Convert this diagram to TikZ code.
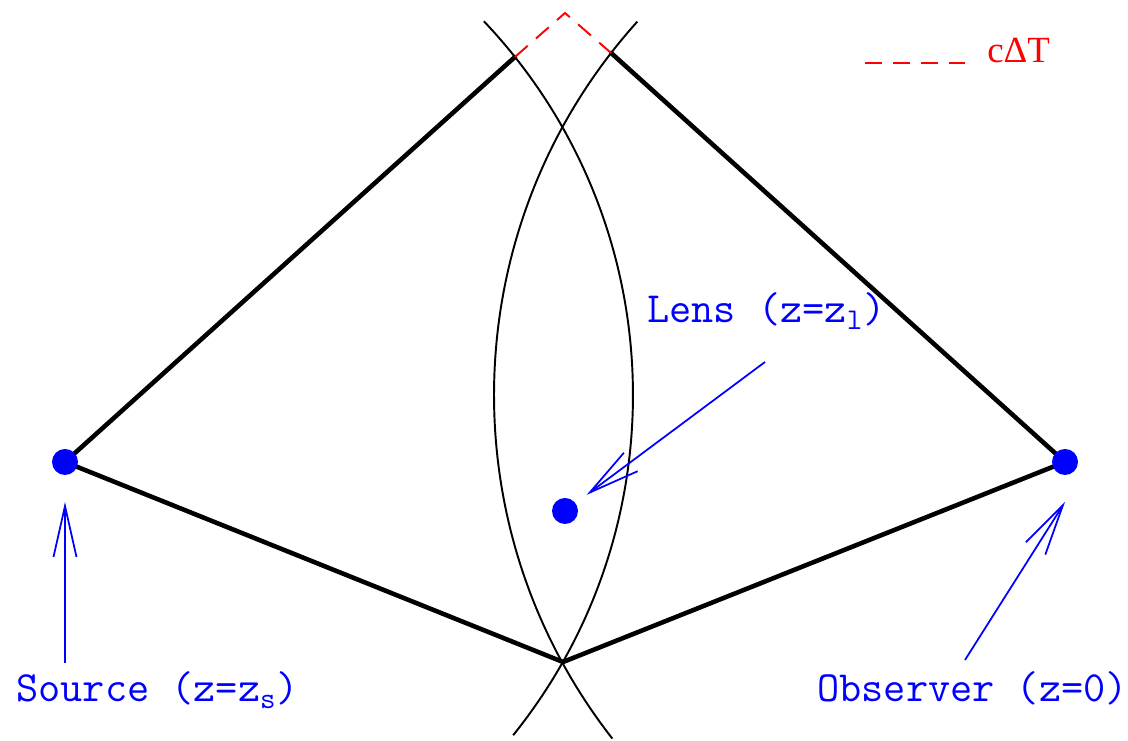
\documentclass[tikz,border=0pt]{standalone}
\usepackage{fontspec}
\usepackage{tikz}
\usetikzlibrary{arrows.meta, calc}
\newfontfamily\keyfont{Liberation Serif}

\begin{document}
\begin{tikzpicture}[
  ray/.style={line width=2.6pt, line cap=round, line join=round},
  front/.style={line width=1.1pt},
  delay/.style={red, line width=1.1pt, dash pattern=on 0.34cm off 0.22cm},
  pointer/.style={blue, line width=1pt, -{Straight Barb[length=1.02cm, width=0.46cm]}},
  dot/.style={circle, fill=blue, inner sep=0pt, minimum size=0.52cm},
  tag/.style={blue, font=\ttfamily\fontsize{24.5}{27}\selectfont, inner sep=0pt, anchor=base west}
]
  \useasboundingbox (0,0) rectangle (22.56,14.82);

  % Wave fronts
  \coordinate (C1) at (1.80, 6.92);
  \coordinate (C2) at (21.04, 6.92);
  \draw[front] (C1) ++(43.5:10.86) arc[start angle=43.5, end angle=-38.8, radius=10.86];
  \draw[front] (C2) ++(138:11.16) arc[start angle=138, end angle=218, radius=11.16];

  % Coordinates
  \coordinate (S) at (1.30, 5.58);
  \coordinate (O) at (21.30, 5.58);
  \coordinate (L) at (11.30, 4.60);
  \coordinate (tl) at ($(C1)+(38.5:10.86)$);
  \coordinate (tr) at ($(C2)+(142.2:11.16)$);
  \coordinate (apex) at (11.30, 14.56);
  \coordinate (bot) at (11.26, 1.58);

  % Light paths
  \draw[ray] (tl) -- (S) -- (bot) -- (O) -- (tr);
  \draw[delay] (tl) -- (apex) -- (tr);

  % Source, lens, observer
  \node[dot] (src) at (S) {};
  \node[dot] (lens) at (L) {};
  \node[dot] (obs) at (O) {};

  % Labels
  \node[tag] (srclabel) at (0.32, 0.78) {Source (z=z\textsubscript{s})};
  \node[tag] (obslabel) at (16.34, 0.78) {Observer (z=0)};
  \node[tag] (lenslabel) at (12.94, 8.36) {Lens (z=z\textsubscript{l})};

  % Pointers
  \coordinate (srctail) at (1.30, 1.56);
  \coordinate (lenstail) at (15.30, 7.58);
  \coordinate (obstail) at (19.30, 1.62);
  \coordinate (obstip) at (21.30, 4.78);
  \draw[pointer, shorten >=0.8cm] (srctail) -- (src.center);
  \draw[pointer, shorten >=0.54cm] (lenstail) -- (lens.center);
  \draw[pointer] (obstail) -- (obstip);

  % Key
  \coordinate (keyline) at (17.30, 13.56);
  \draw[delay] (keyline) -- ++(2.0,0);
  \node[red, font=\keyfont\fontsize{21}{24}\selectfont, inner sep=0pt, anchor=base west] (key) at (19.74, 13.56) {cΔT};
\end{tikzpicture}
\end{document}
